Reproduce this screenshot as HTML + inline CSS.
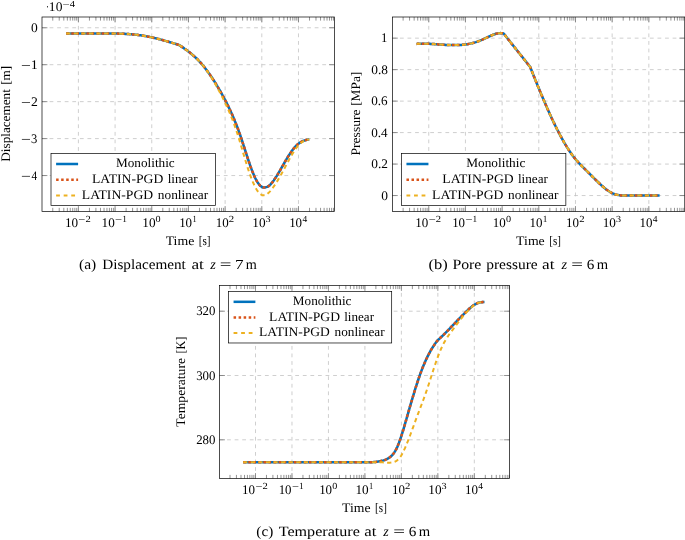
<!DOCTYPE html>
<html><head><meta charset="utf-8"><title>Figure</title>
<style>html,body{margin:0;padding:0;background:#fff}svg{display:block}text{font-family:"Liberation Serif",serif;fill:#000;text-rendering:geometricPrecision}</style>
</head><body>
<svg width="685" height="540" viewBox="0 0 685 540">
<rect width="685" height="540" fill="#fff"/>
<path d="M78.40 211.45 V17.00 M115.08 211.45 V17.00 M151.76 211.45 V17.00 M188.44 211.45 V17.00 M225.12 211.45 V17.00 M261.80 211.45 V17.00 M298.48 211.45 V17.00 M42.00 27.75 H334.40 M42.00 64.70 H334.40 M42.00 101.65 H334.40 M42.00 138.60 H334.40 M42.00 175.55 H334.40" fill="none" stroke="#bfbfbf" stroke-width="0.75" stroke-dasharray="3.79 3.785"/>
<path d="M52.76 17.00 v3.60 M52.76 211.45 v-3.60 M59.22 17.00 v3.60 M59.22 211.45 v-3.60 M63.80 17.00 v3.60 M63.80 211.45 v-3.60 M67.36 17.00 v3.60 M67.36 211.45 v-3.60 M70.26 17.00 v3.60 M70.26 211.45 v-3.60 M72.72 17.00 v3.60 M72.72 211.45 v-3.60 M74.85 17.00 v3.60 M74.85 211.45 v-3.60 M76.72 17.00 v3.60 M76.72 211.45 v-3.60 M78.40 17.00 v5.40 M78.40 211.45 v-5.40 M89.44 17.00 v3.60 M89.44 211.45 v-3.60 M95.90 17.00 v3.60 M95.90 211.45 v-3.60 M100.48 17.00 v3.60 M100.48 211.45 v-3.60 M104.04 17.00 v3.60 M104.04 211.45 v-3.60 M106.94 17.00 v3.60 M106.94 211.45 v-3.60 M109.40 17.00 v3.60 M109.40 211.45 v-3.60 M111.53 17.00 v3.60 M111.53 211.45 v-3.60 M113.40 17.00 v3.60 M113.40 211.45 v-3.60 M115.08 17.00 v5.40 M115.08 211.45 v-5.40 M126.12 17.00 v3.60 M126.12 211.45 v-3.60 M132.58 17.00 v3.60 M132.58 211.45 v-3.60 M137.16 17.00 v3.60 M137.16 211.45 v-3.60 M140.72 17.00 v3.60 M140.72 211.45 v-3.60 M143.62 17.00 v3.60 M143.62 211.45 v-3.60 M146.08 17.00 v3.60 M146.08 211.45 v-3.60 M148.21 17.00 v3.60 M148.21 211.45 v-3.60 M150.08 17.00 v3.60 M150.08 211.45 v-3.60 M151.76 17.00 v5.40 M151.76 211.45 v-5.40 M162.80 17.00 v3.60 M162.80 211.45 v-3.60 M169.26 17.00 v3.60 M169.26 211.45 v-3.60 M173.84 17.00 v3.60 M173.84 211.45 v-3.60 M177.40 17.00 v3.60 M177.40 211.45 v-3.60 M180.30 17.00 v3.60 M180.30 211.45 v-3.60 M182.76 17.00 v3.60 M182.76 211.45 v-3.60 M184.89 17.00 v3.60 M184.89 211.45 v-3.60 M186.76 17.00 v3.60 M186.76 211.45 v-3.60 M188.44 17.00 v5.40 M188.44 211.45 v-5.40 M199.48 17.00 v3.60 M199.48 211.45 v-3.60 M205.94 17.00 v3.60 M205.94 211.45 v-3.60 M210.52 17.00 v3.60 M210.52 211.45 v-3.60 M214.08 17.00 v3.60 M214.08 211.45 v-3.60 M216.98 17.00 v3.60 M216.98 211.45 v-3.60 M219.44 17.00 v3.60 M219.44 211.45 v-3.60 M221.57 17.00 v3.60 M221.57 211.45 v-3.60 M223.44 17.00 v3.60 M223.44 211.45 v-3.60 M225.12 17.00 v5.40 M225.12 211.45 v-5.40 M236.16 17.00 v3.60 M236.16 211.45 v-3.60 M242.62 17.00 v3.60 M242.62 211.45 v-3.60 M247.20 17.00 v3.60 M247.20 211.45 v-3.60 M250.76 17.00 v3.60 M250.76 211.45 v-3.60 M253.66 17.00 v3.60 M253.66 211.45 v-3.60 M256.12 17.00 v3.60 M256.12 211.45 v-3.60 M258.25 17.00 v3.60 M258.25 211.45 v-3.60 M260.12 17.00 v3.60 M260.12 211.45 v-3.60 M261.80 17.00 v5.40 M261.80 211.45 v-5.40 M272.84 17.00 v3.60 M272.84 211.45 v-3.60 M279.30 17.00 v3.60 M279.30 211.45 v-3.60 M283.88 17.00 v3.60 M283.88 211.45 v-3.60 M287.44 17.00 v3.60 M287.44 211.45 v-3.60 M290.34 17.00 v3.60 M290.34 211.45 v-3.60 M292.80 17.00 v3.60 M292.80 211.45 v-3.60 M294.93 17.00 v3.60 M294.93 211.45 v-3.60 M296.80 17.00 v3.60 M296.80 211.45 v-3.60 M298.48 17.00 v5.40 M298.48 211.45 v-5.40 M309.52 17.00 v3.60 M309.52 211.45 v-3.60 M315.98 17.00 v3.60 M315.98 211.45 v-3.60 M320.56 17.00 v3.60 M320.56 211.45 v-3.60 M324.12 17.00 v3.60 M324.12 211.45 v-3.60 M327.02 17.00 v3.60 M327.02 211.45 v-3.60 M329.48 17.00 v3.60 M329.48 211.45 v-3.60 M331.61 17.00 v3.60 M331.61 211.45 v-3.60 M333.48 17.00 v3.60 M333.48 211.45 v-3.60 M42.00 27.75 h5.4 M334.40 27.75 h-5.4 M42.00 64.70 h5.4 M334.40 64.70 h-5.4 M42.00 101.65 h5.4 M334.40 101.65 h-5.4 M42.00 138.60 h5.4 M334.40 138.60 h-5.4 M42.00 175.55 h5.4 M334.40 175.55 h-5.4" fill="none" stroke="#707070" stroke-width="0.75"/>
<path d="M66.20 33.40 L66.95 33.40 L67.70 33.40 L68.45 33.40 L69.20 33.40 L69.95 33.40 L70.70 33.40 L71.45 33.40 L72.20 33.40 L72.95 33.40 L73.70 33.40 L74.45 33.40 L75.20 33.40 L75.95 33.40 L76.70 33.40 L77.45 33.40 L78.20 33.40 L78.95 33.40 L79.70 33.40 L80.45 33.40 L81.20 33.40 L81.95 33.40 L82.70 33.40 L83.45 33.40 L84.20 33.40 L84.95 33.40 L85.70 33.40 L86.45 33.40 L87.20 33.40 L87.95 33.40 L88.70 33.40 L89.45 33.40 L90.20 33.40 L90.95 33.40 L91.70 33.40 L92.45 33.40 L93.20 33.40 L93.95 33.40 L94.70 33.40 L95.45 33.40 L96.20 33.40 L96.95 33.40 L97.70 33.40 L98.45 33.40 L99.20 33.40 L99.95 33.40 L100.70 33.40 L101.45 33.40 L102.20 33.40 L102.95 33.40 L103.70 33.40 L104.00 33.40 L104.75 33.41 L105.50 33.42 L106.25 33.43 L107.00 33.44 L107.75 33.45 L108.50 33.46 L109.25 33.47 L110.00 33.49 L110.75 33.50 L111.50 33.51 L112.25 33.52 L113.00 33.53 L113.75 33.54 L114.50 33.55 L115.25 33.57 L116.00 33.58 L116.75 33.60 L117.50 33.61 L118.25 33.63 L119.00 33.65 L119.75 33.67 L120.50 33.70 L121.25 33.72 L122.00 33.75 L122.75 33.78 L123.50 33.81 L124.25 33.84 L125.00 33.87 L125.75 33.91 L126.50 33.95 L127.25 33.99 L128.00 34.04 L128.75 34.09 L129.50 34.14 L130.25 34.19 L131.00 34.25 L131.75 34.31 L132.50 34.38 L133.25 34.45 L134.00 34.52 L134.75 34.60 L135.50 34.68 L136.25 34.76 L137.00 34.85 L137.75 34.94 L138.50 35.03 L139.25 35.13 L140.00 35.24 L140.75 35.35 L141.50 35.47 L142.25 35.59 L143.00 35.71 L143.75 35.83 L144.50 35.96 L145.25 36.09 L146.00 36.23 L146.75 36.37 L147.50 36.51 L148.25 36.66 L149.00 36.81 L149.75 36.97 L150.50 37.13 L151.25 37.29 L152.00 37.45 L152.75 37.62 L153.50 37.79 L154.25 37.96 L155.00 38.14 L155.75 38.32 L156.50 38.50 L157.25 38.69 L158.00 38.87 L158.75 39.06 L159.50 39.26 L160.25 39.45 L161.00 39.65 L161.75 39.85 L162.50 40.06 L163.25 40.26 L164.00 40.47 L164.75 40.68 L165.50 40.89 L166.25 41.10 L167.00 41.32 L167.75 41.54 L168.50 41.76 L169.25 41.98 L170.00 42.20 L170.75 42.43 L171.50 42.66 L172.25 42.89 L173.00 43.12 L173.75 43.35 L174.50 43.58 L175.25 43.81 L176.00 44.05 L176.75 44.28 L177.50 44.52 L178.25 44.76 L179.00 45.00 L179.30 45.10 L180.05 45.60 L180.80 46.10 L181.55 46.61 L182.30 47.12 L183.05 47.64 L183.80 48.16 L184.55 48.69 L185.30 49.22 L186.05 49.75 L186.80 50.30 L187.55 50.86 L188.30 51.43 L189.05 52.01 L189.80 52.60 L190.55 53.20 L191.30 53.81 L192.05 54.43 L192.80 55.06 L193.55 55.71 L194.30 56.38 L195.05 57.06 L195.80 57.76 L196.55 58.48 L197.30 59.22 L198.05 59.98 L198.80 60.76 L199.55 61.55 L200.30 62.37 L201.05 63.21 L201.80 64.07 L202.55 64.95 L203.30 65.85 L204.05 66.77 L204.80 67.71 L205.55 68.67 L206.30 69.65 L207.05 70.66 L207.80 71.68 L208.55 72.72 L209.30 73.77 L210.05 74.85 L210.80 75.94 L211.55 77.05 L212.30 78.19 L213.05 79.34 L213.80 80.50 L214.55 81.68 L215.30 82.88 L216.05 84.10 L216.80 85.33 L217.55 86.58 L218.30 87.85 L219.05 89.13 L219.80 90.43 L220.55 91.74 L221.30 93.07 L222.05 94.41 L222.80 95.76 L223.55 97.13 L224.30 98.53 L225.05 99.94 L225.80 101.38 L226.55 102.85 L227.30 104.33 L228.05 105.85 L228.80 107.38 L229.55 108.95 L230.30 110.54 L231.05 112.17 L231.80 113.83 L232.55 115.54 L233.30 117.27 L234.05 119.05 L234.80 120.86 L235.55 122.72 L236.30 124.60 L237.05 126.54 L237.80 128.52 L238.55 130.56 L239.30 132.65 L240.05 134.78 L240.80 136.94 L241.55 139.18 L242.30 141.46 L243.05 143.77 L243.80 146.09 L244.55 148.40 L245.30 150.75 L246.05 153.11 L246.80 155.45 L247.55 157.75 L248.30 159.99 L249.05 162.21 L249.80 164.42 L250.55 166.57 L251.30 168.64 L252.05 170.59 L252.80 172.47 L253.55 174.31 L254.30 176.07 L255.05 177.71 L255.80 179.19 L256.55 180.54 L257.30 181.85 L258.05 183.07 L258.80 184.15 L259.55 185.04 L260.30 185.71 L261.05 186.31 L261.80 186.86 L262.55 187.29 L263.30 187.53 L264.05 187.56 L264.80 187.47 L265.55 187.31 L266.30 187.09 L267.05 186.82 L267.80 186.53 L268.55 186.15 L269.30 185.59 L270.05 184.87 L270.80 184.05 L271.55 183.20 L272.30 182.34 L273.05 181.40 L273.80 180.37 L274.55 179.28 L275.30 178.16 L276.05 177.02 L276.80 175.85 L277.55 174.62 L278.30 173.36 L279.05 172.08 L279.80 170.80 L280.55 169.52 L281.30 168.22 L282.05 166.91 L282.80 165.59 L283.55 164.29 L284.30 163.00 L285.05 161.71 L285.80 160.43 L286.55 159.16 L287.30 157.92 L288.05 156.71 L288.80 155.52 L289.55 154.35 L290.30 153.20 L291.05 152.09 L291.80 151.04 L292.55 150.03 L293.30 149.05 L294.05 148.11 L294.80 147.22 L295.55 146.39 L296.30 145.65 L297.05 144.94 L297.80 144.28 L298.55 143.67 L299.30 143.11 L300.05 142.61 L300.80 142.16 L301.55 141.74 L302.30 141.35 L303.05 141.01 L303.80 140.72 L304.55 140.48 L305.30 140.25 L306.05 140.03 L306.80 139.83 L307.55 139.66 L308.30 139.53 L309.05 139.42 L309.30 139.40" fill="none" stroke="#0072BD" stroke-width="2.52" stroke-linejoin="round"/>
<path d="M66.20 33.40 L66.95 33.40 L67.70 33.40 L68.45 33.40 L69.20 33.40 L69.95 33.40 L70.70 33.40 L71.45 33.40 L72.20 33.40 L72.95 33.40 L73.70 33.40 L74.45 33.40 L75.20 33.40 L75.95 33.40 L76.70 33.40 L77.45 33.40 L78.20 33.40 L78.95 33.40 L79.70 33.40 L80.45 33.40 L81.20 33.40 L81.95 33.40 L82.70 33.40 L83.45 33.40 L84.20 33.40 L84.95 33.40 L85.70 33.40 L86.45 33.40 L87.20 33.40 L87.95 33.40 L88.70 33.40 L89.45 33.40 L90.20 33.40 L90.95 33.40 L91.70 33.40 L92.45 33.40 L93.20 33.40 L93.95 33.40 L94.70 33.40 L95.45 33.40 L96.20 33.40 L96.95 33.40 L97.70 33.40 L98.45 33.40 L99.20 33.40 L99.95 33.40 L100.70 33.40 L101.45 33.40 L102.20 33.40 L102.95 33.40 L103.70 33.40 L104.00 33.40 L104.75 33.41 L105.50 33.42 L106.25 33.43 L107.00 33.44 L107.75 33.45 L108.50 33.46 L109.25 33.47 L110.00 33.49 L110.75 33.50 L111.50 33.51 L112.25 33.52 L113.00 33.53 L113.75 33.54 L114.50 33.55 L115.25 33.57 L116.00 33.58 L116.75 33.60 L117.50 33.61 L118.25 33.63 L119.00 33.65 L119.75 33.67 L120.50 33.70 L121.25 33.72 L122.00 33.75 L122.75 33.78 L123.50 33.81 L124.25 33.84 L125.00 33.87 L125.75 33.91 L126.50 33.95 L127.25 33.99 L128.00 34.04 L128.75 34.09 L129.50 34.14 L130.25 34.19 L131.00 34.25 L131.75 34.31 L132.50 34.38 L133.25 34.45 L134.00 34.52 L134.75 34.60 L135.50 34.68 L136.25 34.76 L137.00 34.85 L137.75 34.94 L138.50 35.03 L139.25 35.13 L140.00 35.24 L140.75 35.35 L141.50 35.47 L142.25 35.59 L143.00 35.71 L143.75 35.83 L144.50 35.96 L145.25 36.09 L146.00 36.23 L146.75 36.37 L147.50 36.51 L148.25 36.66 L149.00 36.81 L149.75 36.97 L150.50 37.13 L151.25 37.29 L152.00 37.45 L152.75 37.62 L153.50 37.79 L154.25 37.96 L155.00 38.14 L155.75 38.32 L156.50 38.50 L157.25 38.69 L158.00 38.87 L158.75 39.06 L159.50 39.26 L160.25 39.45 L161.00 39.65 L161.75 39.85 L162.50 40.06 L163.25 40.26 L164.00 40.47 L164.75 40.68 L165.50 40.89 L166.25 41.10 L167.00 41.32 L167.75 41.54 L168.50 41.76 L169.25 41.98 L170.00 42.20 L170.75 42.43 L171.50 42.66 L172.25 42.89 L173.00 43.12 L173.75 43.35 L174.50 43.58 L175.25 43.81 L176.00 44.05 L176.75 44.28 L177.50 44.52 L178.25 44.76 L179.00 45.00 L179.30 45.10 L180.05 45.60 L180.80 46.10 L181.55 46.61 L182.30 47.12 L183.05 47.64 L183.80 48.16 L184.55 48.69 L185.30 49.22 L186.05 49.75 L186.80 50.30 L187.55 50.86 L188.30 51.43 L189.05 52.01 L189.80 52.60 L190.55 53.20 L191.30 53.81 L192.05 54.43 L192.80 55.06 L193.55 55.71 L194.30 56.38 L195.05 57.06 L195.80 57.76 L196.55 58.48 L197.30 59.22 L198.05 59.98 L198.80 60.76 L199.55 61.55 L200.30 62.37 L201.05 63.21 L201.80 64.07 L202.55 64.95 L203.30 65.85 L204.05 66.77 L204.80 67.71 L205.55 68.67 L206.30 69.65 L207.05 70.66 L207.80 71.68 L208.55 72.72 L209.30 73.77 L210.05 74.85 L210.80 75.94 L211.55 77.05 L212.30 78.19 L213.05 79.34 L213.80 80.50 L214.55 81.68 L215.30 82.88 L216.05 84.10 L216.80 85.33 L217.55 86.58 L218.30 87.85 L219.05 89.13 L219.80 90.43 L220.55 91.74 L221.30 93.07 L222.05 94.41 L222.80 95.76 L223.55 97.13 L224.30 98.53 L225.05 99.94 L225.80 101.38 L226.55 102.85 L227.30 104.33 L228.05 105.85 L228.80 107.38 L229.55 108.95 L230.30 110.54 L231.05 112.17 L231.80 113.83 L232.55 115.54 L233.30 117.27 L234.05 119.05 L234.80 120.86 L235.55 122.72 L236.30 124.60 L237.05 126.54 L237.80 128.52 L238.55 130.56 L239.30 132.65 L240.05 134.78 L240.80 136.94 L241.55 139.18 L242.30 141.46 L243.05 143.77 L243.80 146.09 L244.55 148.40 L245.30 150.75 L246.05 153.11 L246.80 155.45 L247.55 157.75 L248.30 159.99 L249.05 162.21 L249.80 164.42 L250.55 166.57 L251.30 168.64 L252.05 170.59 L252.80 172.47 L253.55 174.31 L254.30 176.07 L255.05 177.71 L255.80 179.19 L256.55 180.54 L257.30 181.85 L258.05 183.07 L258.80 184.15 L259.55 185.04 L260.30 185.71 L261.05 186.31 L261.80 186.86 L262.55 187.29 L263.30 187.53 L264.05 187.56 L264.80 187.47 L265.55 187.31 L266.30 187.09 L267.05 186.82 L267.80 186.53 L268.55 186.15 L269.30 185.59 L270.05 184.87 L270.80 184.05 L271.55 183.20 L272.30 182.34 L273.05 181.40 L273.80 180.37 L274.55 179.28 L275.30 178.16 L276.05 177.02 L276.80 175.85 L277.55 174.62 L278.30 173.36 L279.05 172.08 L279.80 170.80 L280.55 169.52 L281.30 168.22 L282.05 166.91 L282.80 165.59 L283.55 164.29 L284.30 163.00 L285.05 161.71 L285.80 160.43 L286.55 159.16 L287.30 157.92 L288.05 156.71 L288.80 155.52 L289.55 154.35 L290.30 153.20 L291.05 152.09 L291.80 151.04 L292.55 150.03 L293.30 149.05 L294.05 148.11 L294.80 147.22 L295.55 146.39 L296.30 145.65 L297.05 144.94 L297.80 144.28 L298.55 143.67 L299.30 143.11 L300.05 142.61 L300.80 142.16 L301.55 141.74 L302.30 141.35 L303.05 141.01 L303.80 140.72 L304.55 140.48 L305.30 140.25 L306.05 140.03 L306.80 139.83 L307.55 139.66 L308.30 139.53 L309.05 139.42 L309.30 139.40" fill="none" stroke="#D95319" stroke-width="2.52" stroke-linejoin="round" stroke-dasharray="2.7 2.35"/>
<path d="M66.20 33.40 L66.95 33.40 L67.70 33.40 L68.45 33.40 L69.20 33.40 L69.95 33.40 L70.70 33.40 L71.45 33.40 L72.20 33.40 L72.95 33.40 L73.70 33.40 L74.45 33.40 L75.20 33.40 L75.95 33.40 L76.70 33.40 L77.45 33.40 L78.20 33.40 L78.95 33.40 L79.70 33.40 L80.45 33.40 L81.20 33.40 L81.95 33.40 L82.70 33.40 L83.45 33.40 L84.20 33.40 L84.95 33.40 L85.70 33.40 L86.45 33.40 L87.20 33.40 L87.95 33.40 L88.70 33.40 L89.45 33.40 L90.20 33.40 L90.95 33.40 L91.70 33.40 L92.45 33.40 L93.20 33.40 L93.95 33.40 L94.70 33.40 L95.45 33.40 L96.20 33.40 L96.95 33.40 L97.70 33.40 L98.45 33.40 L99.20 33.40 L99.95 33.40 L100.70 33.40 L101.45 33.40 L102.20 33.40 L102.95 33.40 L103.70 33.40 L104.00 33.40 L104.75 33.41 L105.50 33.42 L106.25 33.43 L107.00 33.44 L107.75 33.45 L108.50 33.46 L109.25 33.47 L110.00 33.49 L110.75 33.50 L111.50 33.51 L112.25 33.52 L113.00 33.53 L113.75 33.54 L114.50 33.55 L115.25 33.57 L116.00 33.58 L116.75 33.60 L117.50 33.61 L118.25 33.63 L119.00 33.65 L119.75 33.67 L120.50 33.70 L121.25 33.72 L122.00 33.75 L122.75 33.78 L123.50 33.81 L124.25 33.84 L125.00 33.87 L125.75 33.91 L126.50 33.95 L127.25 33.99 L128.00 34.04 L128.75 34.09 L129.50 34.14 L130.25 34.19 L131.00 34.25 L131.75 34.31 L132.50 34.38 L133.25 34.45 L134.00 34.52 L134.75 34.60 L135.50 34.68 L136.25 34.76 L137.00 34.85 L137.75 34.94 L138.50 35.03 L139.25 35.13 L140.00 35.24 L140.75 35.35 L141.50 35.47 L142.25 35.59 L143.00 35.71 L143.75 35.83 L144.50 35.96 L145.25 36.09 L146.00 36.23 L146.75 36.37 L147.50 36.51 L148.25 36.66 L149.00 36.81 L149.75 36.97 L150.50 37.13 L151.25 37.29 L152.00 37.45 L152.75 37.62 L153.50 37.79 L154.25 37.96 L155.00 38.14 L155.75 38.32 L156.50 38.50 L157.25 38.69 L158.00 38.87 L158.75 39.06 L159.50 39.26 L160.25 39.45 L161.00 39.65 L161.75 39.85 L162.50 40.06 L163.25 40.26 L164.00 40.47 L164.75 40.68 L165.50 40.89 L166.25 41.10 L167.00 41.32 L167.75 41.54 L168.50 41.76 L169.25 41.98 L170.00 42.20 L170.75 42.43 L171.50 42.66 L172.25 42.89 L173.00 43.12 L173.75 43.35 L174.50 43.58 L175.25 43.81 L176.00 44.05 L176.75 44.28 L177.50 44.52 L178.25 44.76 L179.00 45.00 L179.30 45.10 L180.05 45.59 L180.80 46.09 L181.55 46.59 L182.30 47.10 L183.05 47.62 L183.80 48.14 L184.55 48.67 L185.30 49.20 L186.05 49.74 L186.80 50.28 L187.55 50.84 L188.30 51.41 L189.05 52.00 L189.80 52.59 L190.55 53.19 L191.30 53.81 L192.05 54.43 L192.80 55.07 L193.55 55.72 L194.30 56.39 L195.05 57.08 L195.80 57.78 L196.55 58.50 L197.30 59.24 L198.05 60.00 L198.80 60.78 L199.55 61.58 L200.30 62.39 L201.05 63.23 L201.80 64.10 L202.55 64.98 L203.30 65.89 L204.05 66.82 L204.80 67.78 L205.55 68.76 L206.30 69.77 L207.05 70.81 L207.80 71.87 L208.55 72.96 L209.30 74.07 L210.05 75.21 L210.80 76.39 L211.55 77.60 L212.30 78.83 L213.05 80.08 L213.80 81.36 L214.55 82.65 L215.30 83.96 L216.05 85.30 L216.80 86.66 L217.55 88.04 L218.30 89.44 L219.05 90.85 L219.80 92.27 L220.55 93.71 L221.30 95.15 L222.05 96.62 L222.80 98.10 L223.55 99.60 L224.30 101.12 L225.05 102.68 L225.80 104.26 L226.55 105.87 L227.30 107.50 L228.05 109.16 L228.80 110.86 L229.55 112.60 L230.30 114.39 L231.05 116.22 L231.80 118.09 L232.55 120.01 L233.30 121.98 L234.05 123.99 L234.80 126.06 L235.55 128.18 L236.30 130.38 L237.05 132.64 L237.80 134.96 L238.55 137.32 L239.30 139.77 L240.05 142.28 L240.80 144.81 L241.55 147.34 L242.30 149.90 L243.05 152.49 L243.80 155.06 L244.55 157.60 L245.30 160.08 L246.05 162.53 L246.80 164.96 L247.55 167.34 L248.30 169.62 L249.05 171.81 L249.80 173.96 L250.55 176.06 L251.30 178.09 L252.05 180.02 L252.80 181.84 L253.55 183.53 L254.30 185.14 L255.05 186.69 L255.80 188.13 L256.55 189.44 L257.30 190.58 L258.05 191.61 L258.80 192.56 L259.55 193.39 L260.30 194.03 L261.05 194.51 L261.80 194.93 L262.55 195.18 L263.30 195.21 L264.05 195.14 L264.80 195.03 L265.55 194.88 L266.30 194.59 L267.05 194.10 L267.80 193.50 L268.55 192.84 L269.30 192.16 L270.05 191.37 L270.80 190.48 L271.55 189.52 L272.30 188.51 L273.05 187.47 L273.80 186.42 L274.55 185.36 L275.30 184.24 L276.05 183.07 L276.80 181.87 L277.55 180.63 L278.30 179.39 L279.05 178.13 L279.80 176.85 L280.55 175.53 L281.30 174.20 L282.05 172.84 L282.80 171.48 L283.55 170.10 L284.30 168.70 L285.05 167.29 L285.80 165.87 L286.55 164.46 L287.30 163.06 L288.05 161.66 L288.80 160.27 L289.55 158.89 L290.30 157.55 L291.05 156.22 L291.80 154.92 L292.55 153.65 L293.30 152.44 L294.05 151.27 L294.80 150.13 L295.55 149.03 L296.30 147.99 L297.05 147.02 L297.80 146.14 L298.55 145.29 L299.30 144.50 L300.05 143.76 L300.80 143.10 L301.55 142.51 L302.30 141.96 L303.05 141.45 L303.80 141.00 L304.55 140.63 L305.30 140.34 L306.05 140.09 L306.80 139.86 L307.55 139.66 L308.30 139.51 L309.05 139.42 L309.30 139.40" fill="none" stroke="#EDB120" stroke-width="2.00" stroke-linejoin="round" stroke-dasharray="4.25 3.325"/>
<rect x="42.00" y="17.00" width="292.40" height="194.45" fill="none" stroke="#000" stroke-width="0.70"/>
<rect x="51.00" y="153.60" width="164.50" height="51.90" fill="#fff" stroke="#000" stroke-width="0.70"/>
<path d="M56.10 164.00 h22.00" stroke="#0072BD" stroke-width="2.52"/>
<path d="M56.10 179.70 h22.00" stroke="#D95319" stroke-width="2.52" stroke-dasharray="2.52 2.52"/>
<path d="M56.10 195.40 h22.00" stroke="#EDB120" stroke-width="2.00" stroke-dasharray="3.79 3.785"/>
<path d="M428.75 211.45 V17.00 M465.43 211.45 V17.00 M502.11 211.45 V17.00 M538.79 211.45 V17.00 M575.47 211.45 V17.00 M612.15 211.45 V17.00 M648.83 211.45 V17.00 M392.35 38.15 H684.75 M392.35 69.63 H684.75 M392.35 101.11 H684.75 M392.35 132.59 H684.75 M392.35 164.07 H684.75 M392.35 195.55 H684.75" fill="none" stroke="#bfbfbf" stroke-width="0.75" stroke-dasharray="3.79 3.785"/>
<path d="M403.11 17.00 v3.60 M403.11 211.45 v-3.60 M409.57 17.00 v3.60 M409.57 211.45 v-3.60 M414.15 17.00 v3.60 M414.15 211.45 v-3.60 M417.71 17.00 v3.60 M417.71 211.45 v-3.60 M420.61 17.00 v3.60 M420.61 211.45 v-3.60 M423.07 17.00 v3.60 M423.07 211.45 v-3.60 M425.20 17.00 v3.60 M425.20 211.45 v-3.60 M427.07 17.00 v3.60 M427.07 211.45 v-3.60 M428.75 17.00 v5.40 M428.75 211.45 v-5.40 M439.79 17.00 v3.60 M439.79 211.45 v-3.60 M446.25 17.00 v3.60 M446.25 211.45 v-3.60 M450.83 17.00 v3.60 M450.83 211.45 v-3.60 M454.39 17.00 v3.60 M454.39 211.45 v-3.60 M457.29 17.00 v3.60 M457.29 211.45 v-3.60 M459.75 17.00 v3.60 M459.75 211.45 v-3.60 M461.88 17.00 v3.60 M461.88 211.45 v-3.60 M463.75 17.00 v3.60 M463.75 211.45 v-3.60 M465.43 17.00 v5.40 M465.43 211.45 v-5.40 M476.47 17.00 v3.60 M476.47 211.45 v-3.60 M482.93 17.00 v3.60 M482.93 211.45 v-3.60 M487.51 17.00 v3.60 M487.51 211.45 v-3.60 M491.07 17.00 v3.60 M491.07 211.45 v-3.60 M493.97 17.00 v3.60 M493.97 211.45 v-3.60 M496.43 17.00 v3.60 M496.43 211.45 v-3.60 M498.56 17.00 v3.60 M498.56 211.45 v-3.60 M500.43 17.00 v3.60 M500.43 211.45 v-3.60 M502.11 17.00 v5.40 M502.11 211.45 v-5.40 M513.15 17.00 v3.60 M513.15 211.45 v-3.60 M519.61 17.00 v3.60 M519.61 211.45 v-3.60 M524.19 17.00 v3.60 M524.19 211.45 v-3.60 M527.75 17.00 v3.60 M527.75 211.45 v-3.60 M530.65 17.00 v3.60 M530.65 211.45 v-3.60 M533.11 17.00 v3.60 M533.11 211.45 v-3.60 M535.24 17.00 v3.60 M535.24 211.45 v-3.60 M537.11 17.00 v3.60 M537.11 211.45 v-3.60 M538.79 17.00 v5.40 M538.79 211.45 v-5.40 M549.83 17.00 v3.60 M549.83 211.45 v-3.60 M556.29 17.00 v3.60 M556.29 211.45 v-3.60 M560.87 17.00 v3.60 M560.87 211.45 v-3.60 M564.43 17.00 v3.60 M564.43 211.45 v-3.60 M567.33 17.00 v3.60 M567.33 211.45 v-3.60 M569.79 17.00 v3.60 M569.79 211.45 v-3.60 M571.92 17.00 v3.60 M571.92 211.45 v-3.60 M573.79 17.00 v3.60 M573.79 211.45 v-3.60 M575.47 17.00 v5.40 M575.47 211.45 v-5.40 M586.51 17.00 v3.60 M586.51 211.45 v-3.60 M592.97 17.00 v3.60 M592.97 211.45 v-3.60 M597.55 17.00 v3.60 M597.55 211.45 v-3.60 M601.11 17.00 v3.60 M601.11 211.45 v-3.60 M604.01 17.00 v3.60 M604.01 211.45 v-3.60 M606.47 17.00 v3.60 M606.47 211.45 v-3.60 M608.60 17.00 v3.60 M608.60 211.45 v-3.60 M610.47 17.00 v3.60 M610.47 211.45 v-3.60 M612.15 17.00 v5.40 M612.15 211.45 v-5.40 M623.19 17.00 v3.60 M623.19 211.45 v-3.60 M629.65 17.00 v3.60 M629.65 211.45 v-3.60 M634.23 17.00 v3.60 M634.23 211.45 v-3.60 M637.79 17.00 v3.60 M637.79 211.45 v-3.60 M640.69 17.00 v3.60 M640.69 211.45 v-3.60 M643.15 17.00 v3.60 M643.15 211.45 v-3.60 M645.28 17.00 v3.60 M645.28 211.45 v-3.60 M647.15 17.00 v3.60 M647.15 211.45 v-3.60 M648.83 17.00 v5.40 M648.83 211.45 v-5.40 M659.87 17.00 v3.60 M659.87 211.45 v-3.60 M666.33 17.00 v3.60 M666.33 211.45 v-3.60 M670.91 17.00 v3.60 M670.91 211.45 v-3.60 M674.47 17.00 v3.60 M674.47 211.45 v-3.60 M677.37 17.00 v3.60 M677.37 211.45 v-3.60 M679.83 17.00 v3.60 M679.83 211.45 v-3.60 M681.96 17.00 v3.60 M681.96 211.45 v-3.60 M683.83 17.00 v3.60 M683.83 211.45 v-3.60 M392.35 38.15 h5.4 M684.75 38.15 h-5.4 M392.35 69.63 h5.4 M684.75 69.63 h-5.4 M392.35 101.11 h5.4 M684.75 101.11 h-5.4 M392.35 132.59 h5.4 M684.75 132.59 h-5.4 M392.35 164.07 h5.4 M684.75 164.07 h-5.4 M392.35 195.55 h5.4 M684.75 195.55 h-5.4" fill="none" stroke="#707070" stroke-width="0.75"/>
<path d="M416.60 43.90 L417.35 43.86 L418.10 43.82 L418.85 43.79 L419.60 43.77 L420.35 43.75 L421.10 43.73 L421.85 43.72 L422.60 43.71 L423.35 43.70 L424.10 43.70 L424.85 43.70 L425.60 43.70 L426.35 43.71 L427.10 43.73 L427.85 43.76 L428.60 43.79 L429.35 43.83 L430.10 43.87 L430.85 43.91 L431.60 43.95 L432.35 44.00 L433.10 44.04 L433.85 44.08 L434.60 44.13 L435.35 44.18 L436.10 44.23 L436.85 44.28 L437.60 44.34 L438.35 44.40 L439.10 44.45 L439.85 44.50 L440.60 44.55 L441.35 44.60 L442.10 44.65 L442.85 44.70 L443.60 44.76 L444.35 44.81 L445.10 44.87 L445.85 44.92 L446.60 44.96 L447.35 45.00 L448.10 45.04 L448.85 45.06 L449.60 45.08 L450.35 45.08 L451.10 45.08 L451.85 45.09 L452.60 45.09 L453.35 45.09 L454.10 45.09 L454.85 45.09 L455.60 45.09 L456.35 45.10 L457.10 45.10 L457.85 45.10 L458.60 45.09 L459.35 45.06 L460.10 45.02 L460.85 44.96 L461.60 44.90 L462.35 44.82 L463.10 44.75 L463.85 44.67 L464.60 44.59 L465.35 44.50 L466.10 44.39 L466.85 44.27 L467.60 44.14 L468.35 44.01 L469.10 43.87 L469.85 43.72 L470.60 43.56 L471.35 43.39 L472.10 43.21 L472.85 43.01 L473.60 42.81 L474.35 42.59 L475.10 42.37 L475.85 42.14 L476.60 41.89 L477.35 41.64 L478.10 41.37 L478.85 41.09 L479.60 40.79 L480.35 40.50 L481.10 40.19 L481.85 39.88 L482.60 39.55 L483.35 39.21 L484.10 38.86 L484.85 38.50 L485.60 38.14 L486.35 37.78 L487.10 37.43 L487.85 37.10 L488.60 36.75 L489.35 36.40 L490.10 36.06 L490.85 35.72 L491.60 35.40 L492.35 35.09 L493.10 34.80 L493.85 34.54 L494.60 34.27 L495.35 34.02 L496.10 33.80 L496.85 33.61 L497.60 33.48 L498.35 33.36 L499.10 33.26 L499.85 33.18 L500.60 33.13 L501.35 33.14 L502.10 33.18 L502.85 33.27 L503.60 33.40 L504.35 34.37 L505.10 35.33 L505.85 36.30 L506.60 37.26 L507.35 38.22 L508.10 39.17 L508.85 40.13 L509.60 41.08 L510.35 42.03 L511.10 42.97 L511.85 43.92 L512.60 44.87 L513.35 45.81 L514.10 46.75 L514.85 47.69 L515.60 48.63 L516.35 49.57 L517.10 50.51 L517.85 51.45 L518.60 52.39 L519.35 53.33 L520.10 54.26 L520.85 55.20 L521.60 56.14 L522.35 57.08 L523.10 58.02 L523.85 58.97 L524.60 59.91 L525.35 60.85 L526.10 61.80 L526.85 62.75 L527.60 63.70 L528.35 64.65 L529.10 65.60 L529.85 66.55 L530.20 67.00 L530.95 68.89 L531.70 70.78 L532.45 72.67 L533.20 74.54 L533.95 76.41 L534.70 78.28 L535.45 80.14 L536.20 81.99 L536.95 83.84 L537.70 85.68 L538.45 87.51 L539.20 89.33 L539.95 91.15 L540.70 92.96 L541.45 94.75 L542.20 96.54 L542.95 98.31 L543.70 100.08 L544.45 101.83 L545.20 103.58 L545.95 105.31 L546.70 107.02 L547.45 108.72 L548.20 110.41 L548.95 112.09 L549.70 113.76 L550.45 115.41 L551.20 117.04 L551.95 118.66 L552.70 120.26 L553.45 121.84 L554.20 123.41 L554.95 124.96 L555.70 126.50 L556.45 128.02 L557.20 129.52 L557.95 130.99 L558.70 132.45 L559.45 133.89 L560.20 135.31 L560.95 136.71 L561.70 138.09 L562.45 139.45 L563.20 140.79 L563.95 142.09 L564.70 143.37 L565.45 144.64 L566.20 145.88 L566.95 147.11 L567.70 148.31 L568.45 149.48 L569.20 150.63 L569.95 151.74 L570.70 152.83 L571.45 153.90 L572.20 154.95 L572.95 155.96 L573.70 156.95 L574.45 157.90 L575.20 158.82 L575.95 159.71 L576.70 160.58 L577.45 161.42 L578.20 162.25 L578.95 163.07 L579.70 163.87 L580.45 164.66 L581.20 165.44 L581.95 166.22 L582.70 166.97 L583.45 167.72 L584.20 168.44 L584.95 169.17 L585.70 169.88 L586.45 170.60 L587.20 171.32 L587.95 172.04 L588.70 172.78 L589.45 173.53 L590.20 174.28 L590.95 175.03 L591.70 175.79 L592.45 176.55 L593.20 177.30 L593.95 178.05 L594.70 178.80 L595.45 179.54 L596.20 180.28 L596.95 181.01 L597.70 181.76 L598.45 182.49 L599.20 183.23 L599.95 183.95 L600.70 184.66 L601.45 185.35 L602.20 186.02 L602.95 186.68 L603.70 187.32 L604.45 187.95 L605.20 188.57 L605.95 189.17 L606.70 189.74 L607.45 190.28 L608.20 190.79 L608.95 191.28 L609.70 191.76 L610.45 192.22 L611.20 192.63 L611.95 193.00 L612.70 193.32 L613.45 193.63 L614.20 193.92 L614.95 194.20 L615.70 194.44 L616.45 194.65 L617.20 194.81 L617.95 194.94 L618.70 195.07 L619.45 195.18 L620.20 195.29 L620.95 195.38 L621.70 195.46 L622.45 195.51 L623.20 195.54 L623.95 195.55 L624.70 195.55 L625.45 195.55 L626.20 195.54 L626.95 195.54 L627.70 195.54 L628.45 195.54 L629.20 195.54 L629.95 195.54 L630.70 195.54 L631.45 195.54 L632.20 195.54 L632.95 195.54 L633.70 195.54 L634.45 195.54 L635.20 195.54 L635.95 195.55 L636.70 195.55 L637.45 195.55 L638.20 195.55 L638.95 195.55 L639.70 195.56 L640.45 195.56 L641.20 195.56 L641.95 195.56 L642.70 195.56 L643.45 195.56 L644.20 195.57 L644.95 195.57 L645.70 195.57 L646.45 195.57 L647.20 195.57 L647.95 195.57 L648.70 195.58 L649.45 195.58 L650.20 195.58 L650.95 195.58 L651.70 195.58 L652.45 195.58 L653.20 195.59 L653.95 195.59 L654.70 195.59 L655.45 195.59 L656.20 195.59 L656.95 195.59 L657.70 195.60 L658.45 195.60 L659.20 195.60 L659.60 195.60" fill="none" stroke="#0072BD" stroke-width="2.52" stroke-linejoin="round"/>
<path d="M416.60 43.90 L417.35 43.86 L418.10 43.82 L418.85 43.79 L419.60 43.77 L420.35 43.75 L421.10 43.73 L421.85 43.72 L422.60 43.71 L423.35 43.70 L424.10 43.70 L424.85 43.70 L425.60 43.70 L426.35 43.71 L427.10 43.73 L427.85 43.76 L428.60 43.79 L429.35 43.83 L430.10 43.87 L430.85 43.91 L431.60 43.95 L432.35 44.00 L433.10 44.04 L433.85 44.08 L434.60 44.13 L435.35 44.18 L436.10 44.23 L436.85 44.28 L437.60 44.34 L438.35 44.40 L439.10 44.45 L439.85 44.50 L440.60 44.55 L441.35 44.60 L442.10 44.65 L442.85 44.70 L443.60 44.76 L444.35 44.81 L445.10 44.87 L445.85 44.92 L446.60 44.96 L447.35 45.00 L448.10 45.04 L448.85 45.06 L449.60 45.08 L450.35 45.08 L451.10 45.08 L451.85 45.09 L452.60 45.09 L453.35 45.09 L454.10 45.09 L454.85 45.09 L455.60 45.09 L456.35 45.10 L457.10 45.10 L457.85 45.10 L458.60 45.09 L459.35 45.06 L460.10 45.02 L460.85 44.96 L461.60 44.90 L462.35 44.82 L463.10 44.75 L463.85 44.67 L464.60 44.59 L465.35 44.50 L466.10 44.39 L466.85 44.27 L467.60 44.14 L468.35 44.01 L469.10 43.87 L469.85 43.72 L470.60 43.56 L471.35 43.39 L472.10 43.21 L472.85 43.01 L473.60 42.81 L474.35 42.59 L475.10 42.37 L475.85 42.14 L476.60 41.89 L477.35 41.64 L478.10 41.37 L478.85 41.09 L479.60 40.79 L480.35 40.50 L481.10 40.19 L481.85 39.88 L482.60 39.55 L483.35 39.21 L484.10 38.86 L484.85 38.50 L485.60 38.14 L486.35 37.78 L487.10 37.43 L487.85 37.10 L488.60 36.75 L489.35 36.40 L490.10 36.06 L490.85 35.72 L491.60 35.40 L492.35 35.09 L493.10 34.80 L493.85 34.54 L494.60 34.27 L495.35 34.02 L496.10 33.80 L496.85 33.61 L497.60 33.48 L498.35 33.36 L499.10 33.26 L499.85 33.18 L500.60 33.13 L501.35 33.14 L502.10 33.18 L502.85 33.27 L503.60 33.40 L504.35 34.37 L505.10 35.33 L505.85 36.30 L506.60 37.26 L507.35 38.22 L508.10 39.17 L508.85 40.13 L509.60 41.08 L510.35 42.03 L511.10 42.97 L511.85 43.92 L512.60 44.87 L513.35 45.81 L514.10 46.75 L514.85 47.69 L515.60 48.63 L516.35 49.57 L517.10 50.51 L517.85 51.45 L518.60 52.39 L519.35 53.33 L520.10 54.26 L520.85 55.20 L521.60 56.14 L522.35 57.08 L523.10 58.02 L523.85 58.97 L524.60 59.91 L525.35 60.85 L526.10 61.80 L526.85 62.75 L527.60 63.70 L528.35 64.65 L529.10 65.60 L529.85 66.55 L530.20 67.00 L530.95 68.89 L531.70 70.78 L532.45 72.67 L533.20 74.54 L533.95 76.41 L534.70 78.28 L535.45 80.14 L536.20 81.99 L536.95 83.84 L537.70 85.68 L538.45 87.51 L539.20 89.33 L539.95 91.15 L540.70 92.96 L541.45 94.75 L542.20 96.54 L542.95 98.31 L543.70 100.08 L544.45 101.83 L545.20 103.58 L545.95 105.31 L546.70 107.02 L547.45 108.72 L548.20 110.41 L548.95 112.09 L549.70 113.76 L550.45 115.41 L551.20 117.04 L551.95 118.66 L552.70 120.26 L553.45 121.84 L554.20 123.41 L554.95 124.96 L555.70 126.50 L556.45 128.02 L557.20 129.52 L557.95 130.99 L558.70 132.45 L559.45 133.89 L560.20 135.31 L560.95 136.71 L561.70 138.09 L562.45 139.45 L563.20 140.79 L563.95 142.09 L564.70 143.37 L565.45 144.64 L566.20 145.88 L566.95 147.11 L567.70 148.31 L568.45 149.48 L569.20 150.63 L569.95 151.74 L570.70 152.83 L571.45 153.90 L572.20 154.95 L572.95 155.96 L573.70 156.95 L574.45 157.90 L575.20 158.82 L575.95 159.71 L576.70 160.58 L577.45 161.42 L578.20 162.25 L578.95 163.07 L579.70 163.87 L580.45 164.66 L581.20 165.44 L581.95 166.22 L582.70 166.97 L583.45 167.72 L584.20 168.44 L584.95 169.17 L585.70 169.88 L586.45 170.60 L587.20 171.32 L587.95 172.04 L588.70 172.78 L589.45 173.53 L590.20 174.28 L590.95 175.03 L591.70 175.79 L592.45 176.55 L593.20 177.30 L593.95 178.05 L594.70 178.80 L595.45 179.54 L596.20 180.28 L596.95 181.01 L597.70 181.76 L598.45 182.49 L599.20 183.23 L599.95 183.95 L600.70 184.66 L601.45 185.35 L602.20 186.02 L602.95 186.68 L603.70 187.32 L604.45 187.95 L605.20 188.57 L605.95 189.17 L606.70 189.74 L607.45 190.28 L608.20 190.79 L608.95 191.28 L609.70 191.76 L610.45 192.22 L611.20 192.63 L611.95 193.00 L612.70 193.32 L613.45 193.63 L614.20 193.92 L614.95 194.20 L615.70 194.44 L616.45 194.65 L617.20 194.81 L617.95 194.94 L618.70 195.07 L619.45 195.18 L620.20 195.29 L620.95 195.38 L621.70 195.46 L622.45 195.51 L623.20 195.54 L623.95 195.55 L624.70 195.55 L625.45 195.55 L626.20 195.54 L626.95 195.54 L627.70 195.54 L628.45 195.54 L629.20 195.54 L629.95 195.54 L630.70 195.54 L631.45 195.54 L632.20 195.54 L632.95 195.54 L633.70 195.54 L634.45 195.54 L635.20 195.54 L635.95 195.55 L636.70 195.55 L637.45 195.55 L638.20 195.55 L638.95 195.55 L639.70 195.56 L640.45 195.56 L641.20 195.56 L641.95 195.56 L642.70 195.56 L643.45 195.56 L644.20 195.57 L644.95 195.57 L645.70 195.57 L646.45 195.57 L647.20 195.57 L647.95 195.57 L648.70 195.58 L649.45 195.58 L650.20 195.58 L650.95 195.58 L651.70 195.58 L652.45 195.58 L653.20 195.59 L653.95 195.59 L654.70 195.59 L655.45 195.59 L656.20 195.59 L656.95 195.59 L657.70 195.60 L658.45 195.60 L659.20 195.60 L659.60 195.60" fill="none" stroke="#D95319" stroke-width="2.52" stroke-linejoin="round" stroke-dasharray="2.7 2.35"/>
<path d="M416.60 43.90 L417.35 43.86 L418.10 43.82 L418.85 43.79 L419.60 43.77 L420.35 43.75 L421.10 43.73 L421.85 43.72 L422.60 43.71 L423.35 43.70 L424.10 43.70 L424.85 43.70 L425.60 43.70 L426.35 43.71 L427.10 43.73 L427.85 43.76 L428.60 43.79 L429.35 43.83 L430.10 43.87 L430.85 43.91 L431.60 43.95 L432.35 44.00 L433.10 44.04 L433.85 44.08 L434.60 44.13 L435.35 44.18 L436.10 44.23 L436.85 44.28 L437.60 44.34 L438.35 44.40 L439.10 44.45 L439.85 44.50 L440.60 44.55 L441.35 44.60 L442.10 44.65 L442.85 44.70 L443.60 44.76 L444.35 44.81 L445.10 44.87 L445.85 44.92 L446.60 44.96 L447.35 45.00 L448.10 45.04 L448.85 45.06 L449.60 45.08 L450.35 45.08 L451.10 45.08 L451.85 45.09 L452.60 45.09 L453.35 45.09 L454.10 45.09 L454.85 45.09 L455.60 45.09 L456.35 45.10 L457.10 45.10 L457.85 45.10 L458.60 45.09 L459.35 45.06 L460.10 45.02 L460.85 44.96 L461.60 44.90 L462.35 44.82 L463.10 44.75 L463.85 44.67 L464.60 44.59 L465.35 44.50 L466.10 44.39 L466.85 44.27 L467.60 44.14 L468.35 44.01 L469.10 43.87 L469.85 43.72 L470.60 43.56 L471.35 43.39 L472.10 43.21 L472.85 43.01 L473.60 42.81 L474.35 42.59 L475.10 42.37 L475.85 42.14 L476.60 41.89 L477.35 41.64 L478.10 41.37 L478.85 41.09 L479.60 40.79 L480.35 40.50 L481.10 40.19 L481.85 39.88 L482.60 39.55 L483.35 39.21 L484.10 38.86 L484.85 38.50 L485.60 38.14 L486.35 37.78 L487.10 37.43 L487.85 37.10 L488.60 36.75 L489.35 36.40 L490.10 36.06 L490.85 35.72 L491.60 35.40 L492.35 35.09 L493.10 34.80 L493.85 34.54 L494.60 34.27 L495.35 34.02 L496.10 33.80 L496.85 33.61 L497.60 33.48 L498.35 33.36 L499.10 33.26 L499.85 33.18 L500.60 33.13 L501.35 33.14 L502.10 33.18 L502.85 33.27 L503.60 33.40 L504.35 34.37 L505.10 35.33 L505.85 36.30 L506.60 37.26 L507.35 38.22 L508.10 39.17 L508.85 40.13 L509.60 41.08 L510.35 42.03 L511.10 42.97 L511.85 43.92 L512.60 44.87 L513.35 45.81 L514.10 46.75 L514.85 47.69 L515.60 48.63 L516.35 49.57 L517.10 50.51 L517.85 51.45 L518.60 52.39 L519.35 53.33 L520.10 54.26 L520.85 55.20 L521.60 56.14 L522.35 57.08 L523.10 58.02 L523.85 58.97 L524.60 59.91 L525.35 60.85 L526.10 61.80 L526.85 62.75 L527.60 63.70 L528.35 64.65 L529.10 65.60 L529.85 66.55 L530.20 67.00 L530.95 68.89 L531.70 70.78 L532.45 72.67 L533.20 74.54 L533.95 76.41 L534.70 78.28 L535.45 80.14 L536.20 81.99 L536.95 83.84 L537.70 85.68 L538.45 87.51 L539.20 89.33 L539.95 91.15 L540.70 92.96 L541.45 94.75 L542.20 96.54 L542.95 98.31 L543.70 100.08 L544.45 101.83 L545.20 103.58 L545.95 105.31 L546.70 107.02 L547.45 108.72 L548.20 110.41 L548.95 112.09 L549.70 113.76 L550.45 115.41 L551.20 117.04 L551.95 118.66 L552.70 120.26 L553.45 121.84 L554.20 123.41 L554.95 124.96 L555.70 126.50 L556.45 128.02 L557.20 129.52 L557.95 130.99 L558.70 132.45 L559.45 133.89 L560.20 135.31 L560.95 136.71 L561.70 138.09 L562.45 139.45 L563.20 140.79 L563.95 142.09 L564.70 143.37 L565.45 144.64 L566.20 145.88 L566.95 147.11 L567.70 148.31 L568.45 149.48 L569.20 150.63 L569.95 151.74 L570.70 152.83 L571.45 153.90 L572.20 154.95 L572.95 155.96 L573.70 156.95 L574.45 157.90 L575.20 158.82 L575.95 159.71 L576.70 160.58 L577.45 161.42 L578.20 162.25 L578.95 163.07 L579.70 163.87 L580.45 164.66 L581.20 165.44 L581.95 166.22 L582.70 166.97 L583.45 167.72 L584.20 168.44 L584.95 169.17 L585.70 169.88 L586.45 170.60 L587.20 171.32 L587.95 172.04 L588.70 172.78 L589.45 173.53 L590.20 174.28 L590.95 175.03 L591.70 175.79 L592.45 176.55 L593.20 177.30 L593.95 178.05 L594.70 178.80 L595.45 179.54 L596.20 180.28 L596.95 181.01 L597.70 181.76 L598.45 182.49 L599.20 183.23 L599.95 183.95 L600.70 184.66 L601.45 185.35 L602.20 186.02 L602.95 186.68 L603.70 187.32 L604.45 187.95 L605.20 188.57 L605.95 189.17 L606.70 189.74 L607.45 190.28 L608.20 190.79 L608.95 191.28 L609.70 191.76 L610.45 192.22 L611.20 192.63 L611.95 193.00 L612.70 193.32 L613.45 193.63 L614.20 193.92 L614.95 194.20 L615.70 194.44 L616.45 194.65 L617.20 194.81 L617.95 194.94 L618.70 195.07 L619.45 195.18 L620.20 195.29 L620.95 195.38 L621.70 195.46 L622.45 195.51 L623.20 195.54 L623.95 195.55 L624.70 195.55 L625.45 195.55 L626.20 195.54 L626.95 195.54 L627.70 195.54 L628.45 195.54 L629.20 195.54 L629.95 195.54 L630.70 195.54 L631.45 195.54 L632.20 195.54 L632.95 195.54 L633.70 195.54 L634.45 195.54 L635.20 195.54 L635.95 195.55 L636.70 195.55 L637.45 195.55 L638.20 195.55 L638.95 195.55 L639.70 195.56 L640.45 195.56 L641.20 195.56 L641.95 195.56 L642.70 195.56 L643.45 195.56 L644.20 195.57 L644.95 195.57 L645.70 195.57 L646.45 195.57 L647.20 195.57 L647.95 195.57 L648.70 195.58 L649.45 195.58 L650.20 195.58 L650.95 195.58 L651.70 195.58 L652.45 195.58 L653.20 195.59 L653.95 195.59 L654.70 195.59 L655.45 195.59 L656.20 195.59 L656.95 195.59 L657.70 195.60 L658.45 195.60 L659.20 195.60 L659.60 195.60" fill="none" stroke="#EDB120" stroke-width="2.00" stroke-linejoin="round" stroke-dasharray="4.25 3.325"/>
<rect x="392.35" y="17.00" width="292.40" height="194.45" fill="none" stroke="#000" stroke-width="0.70"/>
<rect x="401.35" y="153.60" width="164.50" height="51.90" fill="#fff" stroke="#000" stroke-width="0.70"/>
<path d="M406.45 164.00 h22.00" stroke="#0072BD" stroke-width="2.52"/>
<path d="M406.45 179.70 h22.00" stroke="#D95319" stroke-width="2.52" stroke-dasharray="2.52 2.52"/>
<path d="M406.45 195.40 h22.00" stroke="#EDB120" stroke-width="2.00" stroke-dasharray="3.79 3.785"/>
<path d="M255.50 478.50 V285.50 M291.97 478.50 V285.50 M328.44 478.50 V285.50 M364.91 478.50 V285.50 M401.38 478.50 V285.50 M437.85 478.50 V285.50 M474.32 478.50 V285.50 M219.50 311.20 H509.50 M219.50 375.50 H509.50 M219.50 439.80 H509.50" fill="none" stroke="#bfbfbf" stroke-width="0.75" stroke-dasharray="3.79 3.785"/>
<path d="M230.01 285.50 v3.60 M230.01 478.50 v-3.60 M236.43 285.50 v3.60 M236.43 478.50 v-3.60 M240.99 285.50 v3.60 M240.99 478.50 v-3.60 M244.52 285.50 v3.60 M244.52 478.50 v-3.60 M247.41 285.50 v3.60 M247.41 478.50 v-3.60 M249.85 285.50 v3.60 M249.85 478.50 v-3.60 M251.97 285.50 v3.60 M251.97 478.50 v-3.60 M253.83 285.50 v3.60 M253.83 478.50 v-3.60 M255.50 285.50 v5.40 M255.50 478.50 v-5.40 M266.48 285.50 v3.60 M266.48 478.50 v-3.60 M272.90 285.50 v3.60 M272.90 478.50 v-3.60 M277.46 285.50 v3.60 M277.46 478.50 v-3.60 M280.99 285.50 v3.60 M280.99 478.50 v-3.60 M283.88 285.50 v3.60 M283.88 478.50 v-3.60 M286.32 285.50 v3.60 M286.32 478.50 v-3.60 M288.44 285.50 v3.60 M288.44 478.50 v-3.60 M290.30 285.50 v3.60 M290.30 478.50 v-3.60 M291.97 285.50 v5.40 M291.97 478.50 v-5.40 M302.95 285.50 v3.60 M302.95 478.50 v-3.60 M309.37 285.50 v3.60 M309.37 478.50 v-3.60 M313.93 285.50 v3.60 M313.93 478.50 v-3.60 M317.46 285.50 v3.60 M317.46 478.50 v-3.60 M320.35 285.50 v3.60 M320.35 478.50 v-3.60 M322.79 285.50 v3.60 M322.79 478.50 v-3.60 M324.91 285.50 v3.60 M324.91 478.50 v-3.60 M326.77 285.50 v3.60 M326.77 478.50 v-3.60 M328.44 285.50 v5.40 M328.44 478.50 v-5.40 M339.42 285.50 v3.60 M339.42 478.50 v-3.60 M345.84 285.50 v3.60 M345.84 478.50 v-3.60 M350.40 285.50 v3.60 M350.40 478.50 v-3.60 M353.93 285.50 v3.60 M353.93 478.50 v-3.60 M356.82 285.50 v3.60 M356.82 478.50 v-3.60 M359.26 285.50 v3.60 M359.26 478.50 v-3.60 M361.38 285.50 v3.60 M361.38 478.50 v-3.60 M363.24 285.50 v3.60 M363.24 478.50 v-3.60 M364.91 285.50 v5.40 M364.91 478.50 v-5.40 M375.89 285.50 v3.60 M375.89 478.50 v-3.60 M382.31 285.50 v3.60 M382.31 478.50 v-3.60 M386.87 285.50 v3.60 M386.87 478.50 v-3.60 M390.40 285.50 v3.60 M390.40 478.50 v-3.60 M393.29 285.50 v3.60 M393.29 478.50 v-3.60 M395.73 285.50 v3.60 M395.73 478.50 v-3.60 M397.85 285.50 v3.60 M397.85 478.50 v-3.60 M399.71 285.50 v3.60 M399.71 478.50 v-3.60 M401.38 285.50 v5.40 M401.38 478.50 v-5.40 M412.36 285.50 v3.60 M412.36 478.50 v-3.60 M418.78 285.50 v3.60 M418.78 478.50 v-3.60 M423.34 285.50 v3.60 M423.34 478.50 v-3.60 M426.87 285.50 v3.60 M426.87 478.50 v-3.60 M429.76 285.50 v3.60 M429.76 478.50 v-3.60 M432.20 285.50 v3.60 M432.20 478.50 v-3.60 M434.32 285.50 v3.60 M434.32 478.50 v-3.60 M436.18 285.50 v3.60 M436.18 478.50 v-3.60 M437.85 285.50 v5.40 M437.85 478.50 v-5.40 M448.83 285.50 v3.60 M448.83 478.50 v-3.60 M455.25 285.50 v3.60 M455.25 478.50 v-3.60 M459.81 285.50 v3.60 M459.81 478.50 v-3.60 M463.34 285.50 v3.60 M463.34 478.50 v-3.60 M466.23 285.50 v3.60 M466.23 478.50 v-3.60 M468.67 285.50 v3.60 M468.67 478.50 v-3.60 M470.79 285.50 v3.60 M470.79 478.50 v-3.60 M472.65 285.50 v3.60 M472.65 478.50 v-3.60 M474.32 285.50 v5.40 M474.32 478.50 v-5.40 M485.30 285.50 v3.60 M485.30 478.50 v-3.60 M491.72 285.50 v3.60 M491.72 478.50 v-3.60 M496.28 285.50 v3.60 M496.28 478.50 v-3.60 M499.81 285.50 v3.60 M499.81 478.50 v-3.60 M502.70 285.50 v3.60 M502.70 478.50 v-3.60 M505.14 285.50 v3.60 M505.14 478.50 v-3.60 M507.26 285.50 v3.60 M507.26 478.50 v-3.60 M509.12 285.50 v3.60 M509.12 478.50 v-3.60 M219.50 311.20 h5.4 M509.50 311.20 h-5.4 M219.50 375.50 h5.4 M509.50 375.50 h-5.4 M219.50 439.80 h5.4 M509.50 439.80 h-5.4" fill="none" stroke="#707070" stroke-width="0.75"/>
<path d="M243.20 462.30 L243.95 462.30 L244.70 462.30 L245.45 462.30 L246.20 462.30 L246.95 462.30 L247.70 462.30 L248.45 462.30 L249.20 462.30 L249.95 462.30 L250.70 462.30 L251.45 462.30 L252.20 462.30 L252.95 462.30 L253.70 462.30 L254.45 462.30 L255.20 462.30 L255.95 462.30 L256.70 462.30 L257.45 462.30 L258.20 462.30 L258.95 462.30 L259.70 462.30 L260.45 462.30 L261.20 462.30 L261.95 462.30 L262.70 462.30 L263.45 462.30 L264.20 462.30 L264.95 462.30 L265.70 462.30 L266.45 462.30 L267.20 462.30 L267.95 462.30 L268.70 462.30 L269.45 462.30 L270.20 462.30 L270.95 462.30 L271.70 462.30 L272.45 462.30 L273.20 462.30 L273.95 462.30 L274.70 462.30 L275.45 462.30 L276.20 462.30 L276.95 462.30 L277.70 462.30 L278.45 462.30 L279.20 462.30 L279.95 462.30 L280.70 462.30 L281.45 462.30 L282.20 462.30 L282.95 462.30 L283.70 462.30 L284.45 462.30 L285.20 462.30 L285.95 462.30 L286.70 462.30 L287.45 462.30 L288.20 462.30 L288.95 462.30 L289.70 462.30 L290.45 462.30 L291.20 462.30 L291.95 462.30 L292.70 462.30 L293.45 462.30 L294.20 462.30 L294.95 462.30 L295.70 462.30 L296.45 462.30 L297.20 462.30 L297.95 462.30 L298.70 462.30 L299.45 462.30 L300.20 462.30 L300.95 462.30 L301.70 462.30 L302.45 462.30 L303.20 462.30 L303.95 462.30 L304.70 462.30 L305.45 462.30 L306.20 462.30 L306.95 462.30 L307.70 462.30 L308.45 462.30 L309.20 462.30 L309.95 462.30 L310.70 462.30 L311.45 462.30 L312.20 462.30 L312.95 462.30 L313.70 462.30 L314.45 462.30 L315.20 462.30 L315.95 462.30 L316.70 462.30 L317.45 462.30 L318.20 462.30 L318.95 462.30 L319.70 462.30 L320.45 462.30 L321.20 462.30 L321.95 462.30 L322.70 462.30 L323.45 462.30 L324.20 462.30 L324.95 462.30 L325.70 462.30 L326.45 462.30 L327.20 462.30 L327.95 462.30 L328.70 462.30 L329.45 462.30 L330.20 462.30 L330.95 462.30 L331.70 462.30 L332.45 462.30 L333.20 462.30 L333.95 462.30 L334.70 462.30 L335.45 462.30 L336.20 462.30 L336.95 462.30 L337.70 462.30 L338.45 462.30 L339.20 462.30 L339.95 462.30 L340.70 462.30 L341.45 462.30 L342.20 462.30 L342.95 462.30 L343.70 462.30 L344.45 462.30 L345.20 462.30 L345.95 462.30 L346.70 462.30 L347.45 462.30 L348.20 462.30 L348.95 462.30 L349.70 462.30 L350.45 462.30 L351.20 462.30 L351.95 462.30 L352.70 462.30 L353.45 462.30 L354.20 462.30 L354.95 462.30 L355.70 462.30 L356.45 462.30 L357.20 462.30 L357.95 462.30 L358.70 462.30 L359.45 462.30 L360.20 462.30 L360.95 462.30 L361.70 462.30 L362.45 462.30 L363.20 462.30 L363.95 462.30 L364.70 462.30 L365.45 462.30 L366.00 462.30 L366.75 462.30 L367.50 462.30 L368.25 462.30 L369.00 462.30 L369.75 462.29 L370.50 462.29 L371.25 462.26 L372.00 462.22 L372.75 462.17 L373.50 462.11 L374.25 462.05 L375.00 461.99 L375.75 461.91 L376.50 461.82 L377.25 461.71 L378.00 461.59 L378.75 461.46 L379.50 461.32 L380.25 461.17 L381.00 461.00 L381.75 460.83 L382.50 460.65 L383.25 460.45 L384.00 460.21 L384.75 459.95 L385.50 459.66 L386.25 459.35 L387.00 459.00 L387.75 458.62 L388.50 458.18 L389.25 457.67 L390.00 457.10 L390.75 456.47 L391.50 455.79 L392.25 455.05 L393.00 454.19 L393.75 453.22 L394.50 452.14 L395.25 450.96 L396.00 449.66 L396.75 448.14 L397.50 446.44 L398.25 444.63 L399.00 442.74 L399.75 440.68 L400.50 438.51 L401.25 436.28 L402.00 433.94 L402.75 431.53 L403.50 429.07 L404.25 426.54 L405.00 423.97 L405.75 421.39 L406.50 418.77 L407.25 416.15 L408.00 413.53 L408.75 410.91 L409.50 408.30 L410.25 405.71 L411.00 403.13 L411.75 400.57 L412.50 398.04 L413.25 395.53 L414.00 393.05 L414.75 390.60 L415.50 388.18 L416.25 385.81 L417.00 383.50 L417.75 381.23 L418.50 378.99 L419.25 376.80 L420.00 374.67 L420.75 372.62 L421.50 370.62 L422.25 368.67 L423.00 366.78 L423.75 364.95 L424.50 363.19 L425.25 361.48 L426.00 359.82 L426.75 358.21 L427.50 356.66 L428.25 355.17 L429.00 353.72 L429.75 352.32 L430.50 350.97 L431.25 349.67 L432.00 348.43 L432.75 347.22 L433.50 346.06 L434.25 344.95 L435.00 343.87 L435.75 342.84 L436.50 341.85 L437.25 340.90 L438.00 340.00 L438.75 339.32 L439.50 338.62 L440.25 337.93 L441.00 337.22 L441.75 336.51 L442.50 335.79 L443.25 335.06 L444.00 334.33 L444.75 333.59 L445.50 332.84 L446.25 332.08 L447.00 331.33 L447.75 330.57 L448.50 329.80 L449.25 329.04 L450.00 328.26 L450.75 327.49 L451.50 326.71 L452.25 325.93 L453.00 325.15 L453.75 324.37 L454.50 323.59 L455.25 322.81 L456.00 322.02 L456.75 321.24 L457.50 320.46 L458.25 319.68 L459.00 318.90 L459.75 318.13 L460.50 317.36 L461.25 316.59 L462.00 315.82 L462.75 315.05 L463.50 314.30 L464.25 313.55 L465.00 312.82 L465.75 312.09 L466.50 311.36 L467.25 310.63 L468.00 309.92 L468.75 309.22 L469.50 308.55 L470.25 307.92 L471.00 307.31 L471.75 306.70 L472.50 306.12 L473.25 305.56 L474.00 305.05 L474.75 304.59 L475.50 304.18 L476.25 303.77 L477.00 303.39 L477.75 303.04 L478.50 302.75 L479.25 302.54 L480.00 302.41 L480.75 302.30 L481.50 302.20 L482.25 302.12 L483.00 302.06 L483.75 302.01 L484.50 302.00" fill="none" stroke="#0072BD" stroke-width="2.52" stroke-linejoin="round"/>
<path d="M243.20 462.30 L243.95 462.30 L244.70 462.30 L245.45 462.30 L246.20 462.30 L246.95 462.30 L247.70 462.30 L248.45 462.30 L249.20 462.30 L249.95 462.30 L250.70 462.30 L251.45 462.30 L252.20 462.30 L252.95 462.30 L253.70 462.30 L254.45 462.30 L255.20 462.30 L255.95 462.30 L256.70 462.30 L257.45 462.30 L258.20 462.30 L258.95 462.30 L259.70 462.30 L260.45 462.30 L261.20 462.30 L261.95 462.30 L262.70 462.30 L263.45 462.30 L264.20 462.30 L264.95 462.30 L265.70 462.30 L266.45 462.30 L267.20 462.30 L267.95 462.30 L268.70 462.30 L269.45 462.30 L270.20 462.30 L270.95 462.30 L271.70 462.30 L272.45 462.30 L273.20 462.30 L273.95 462.30 L274.70 462.30 L275.45 462.30 L276.20 462.30 L276.95 462.30 L277.70 462.30 L278.45 462.30 L279.20 462.30 L279.95 462.30 L280.70 462.30 L281.45 462.30 L282.20 462.30 L282.95 462.30 L283.70 462.30 L284.45 462.30 L285.20 462.30 L285.95 462.30 L286.70 462.30 L287.45 462.30 L288.20 462.30 L288.95 462.30 L289.70 462.30 L290.45 462.30 L291.20 462.30 L291.95 462.30 L292.70 462.30 L293.45 462.30 L294.20 462.30 L294.95 462.30 L295.70 462.30 L296.45 462.30 L297.20 462.30 L297.95 462.30 L298.70 462.30 L299.45 462.30 L300.20 462.30 L300.95 462.30 L301.70 462.30 L302.45 462.30 L303.20 462.30 L303.95 462.30 L304.70 462.30 L305.45 462.30 L306.20 462.30 L306.95 462.30 L307.70 462.30 L308.45 462.30 L309.20 462.30 L309.95 462.30 L310.70 462.30 L311.45 462.30 L312.20 462.30 L312.95 462.30 L313.70 462.30 L314.45 462.30 L315.20 462.30 L315.95 462.30 L316.70 462.30 L317.45 462.30 L318.20 462.30 L318.95 462.30 L319.70 462.30 L320.45 462.30 L321.20 462.30 L321.95 462.30 L322.70 462.30 L323.45 462.30 L324.20 462.30 L324.95 462.30 L325.70 462.30 L326.45 462.30 L327.20 462.30 L327.95 462.30 L328.70 462.30 L329.45 462.30 L330.20 462.30 L330.95 462.30 L331.70 462.30 L332.45 462.30 L333.20 462.30 L333.95 462.30 L334.70 462.30 L335.45 462.30 L336.20 462.30 L336.95 462.30 L337.70 462.30 L338.45 462.30 L339.20 462.30 L339.95 462.30 L340.70 462.30 L341.45 462.30 L342.20 462.30 L342.95 462.30 L343.70 462.30 L344.45 462.30 L345.20 462.30 L345.95 462.30 L346.70 462.30 L347.45 462.30 L348.20 462.30 L348.95 462.30 L349.70 462.30 L350.45 462.30 L351.20 462.30 L351.95 462.30 L352.70 462.30 L353.45 462.30 L354.20 462.30 L354.95 462.30 L355.70 462.30 L356.45 462.30 L357.20 462.30 L357.95 462.30 L358.70 462.30 L359.45 462.30 L360.20 462.30 L360.95 462.30 L361.70 462.30 L362.45 462.30 L363.20 462.30 L363.95 462.30 L364.70 462.30 L365.45 462.30 L366.00 462.30 L366.75 462.30 L367.50 462.30 L368.25 462.30 L369.00 462.30 L369.75 462.29 L370.50 462.29 L371.25 462.26 L372.00 462.22 L372.75 462.17 L373.50 462.11 L374.25 462.05 L375.00 461.99 L375.75 461.91 L376.50 461.82 L377.25 461.71 L378.00 461.59 L378.75 461.46 L379.50 461.32 L380.25 461.17 L381.00 461.00 L381.75 460.83 L382.50 460.65 L383.25 460.45 L384.00 460.21 L384.75 459.95 L385.50 459.66 L386.25 459.35 L387.00 459.00 L387.75 458.62 L388.50 458.18 L389.25 457.67 L390.00 457.10 L390.75 456.47 L391.50 455.79 L392.25 455.05 L393.00 454.19 L393.75 453.22 L394.50 452.14 L395.25 450.96 L396.00 449.66 L396.75 448.14 L397.50 446.44 L398.25 444.63 L399.00 442.74 L399.75 440.68 L400.50 438.51 L401.25 436.28 L402.00 433.94 L402.75 431.53 L403.50 429.07 L404.25 426.54 L405.00 423.97 L405.75 421.39 L406.50 418.77 L407.25 416.15 L408.00 413.53 L408.75 410.91 L409.50 408.30 L410.25 405.71 L411.00 403.13 L411.75 400.57 L412.50 398.04 L413.25 395.53 L414.00 393.05 L414.75 390.60 L415.50 388.18 L416.25 385.81 L417.00 383.50 L417.75 381.23 L418.50 378.99 L419.25 376.80 L420.00 374.67 L420.75 372.62 L421.50 370.62 L422.25 368.67 L423.00 366.78 L423.75 364.95 L424.50 363.19 L425.25 361.48 L426.00 359.82 L426.75 358.21 L427.50 356.66 L428.25 355.17 L429.00 353.72 L429.75 352.32 L430.50 350.97 L431.25 349.67 L432.00 348.43 L432.75 347.22 L433.50 346.06 L434.25 344.95 L435.00 343.87 L435.75 342.84 L436.50 341.85 L437.25 340.90 L438.00 340.00 L438.75 339.32 L439.50 338.62 L440.25 337.93 L441.00 337.22 L441.75 336.51 L442.50 335.79 L443.25 335.06 L444.00 334.33 L444.75 333.59 L445.50 332.84 L446.25 332.08 L447.00 331.33 L447.75 330.57 L448.50 329.80 L449.25 329.04 L450.00 328.26 L450.75 327.49 L451.50 326.71 L452.25 325.93 L453.00 325.15 L453.75 324.37 L454.50 323.59 L455.25 322.81 L456.00 322.02 L456.75 321.24 L457.50 320.46 L458.25 319.68 L459.00 318.90 L459.75 318.13 L460.50 317.36 L461.25 316.59 L462.00 315.82 L462.75 315.05 L463.50 314.30 L464.25 313.55 L465.00 312.82 L465.75 312.09 L466.50 311.36 L467.25 310.63 L468.00 309.92 L468.75 309.22 L469.50 308.55 L470.25 307.92 L471.00 307.31 L471.75 306.70 L472.50 306.12 L473.25 305.56 L474.00 305.05 L474.75 304.59 L475.50 304.18 L476.25 303.77 L477.00 303.39 L477.75 303.04 L478.50 302.75 L479.25 302.54 L480.00 302.41 L480.75 302.30 L481.50 302.20 L482.25 302.12 L483.00 302.06 L483.75 302.01 L484.50 302.00" fill="none" stroke="#D95319" stroke-width="2.52" stroke-linejoin="round" stroke-dasharray="2.7 2.35"/>
<path d="M243.20 462.30 L243.95 462.30 L244.70 462.30 L245.45 462.30 L246.20 462.30 L246.95 462.30 L247.70 462.30 L248.45 462.30 L249.20 462.30 L249.95 462.30 L250.70 462.30 L251.45 462.30 L252.20 462.30 L252.95 462.30 L253.70 462.30 L254.45 462.30 L255.20 462.30 L255.95 462.30 L256.70 462.31 L257.45 462.31 L258.20 462.31 L258.95 462.31 L259.70 462.31 L260.45 462.31 L261.20 462.31 L261.95 462.31 L262.70 462.31 L263.45 462.31 L264.20 462.31 L264.95 462.31 L265.70 462.31 L266.45 462.31 L267.20 462.31 L267.95 462.31 L268.70 462.31 L269.45 462.31 L270.20 462.31 L270.95 462.31 L271.70 462.31 L272.45 462.31 L273.20 462.31 L273.95 462.31 L274.70 462.31 L275.45 462.31 L276.20 462.31 L276.95 462.31 L277.70 462.31 L278.45 462.31 L279.20 462.31 L279.95 462.31 L280.70 462.31 L281.45 462.31 L282.20 462.31 L282.95 462.31 L283.70 462.32 L284.45 462.32 L285.20 462.32 L285.95 462.32 L286.70 462.32 L287.45 462.32 L288.20 462.32 L288.95 462.32 L289.70 462.32 L290.45 462.32 L291.20 462.32 L291.95 462.32 L292.70 462.32 L293.45 462.32 L294.20 462.32 L294.95 462.32 L295.70 462.32 L296.45 462.32 L297.20 462.32 L297.95 462.32 L298.70 462.32 L299.45 462.32 L300.20 462.32 L300.95 462.32 L301.70 462.32 L302.45 462.32 L303.20 462.32 L303.95 462.32 L304.70 462.32 L305.45 462.32 L306.20 462.32 L306.95 462.32 L307.70 462.32 L308.45 462.32 L309.20 462.32 L309.95 462.32 L310.70 462.33 L311.45 462.33 L312.20 462.33 L312.95 462.33 L313.70 462.33 L314.45 462.33 L315.20 462.33 L315.95 462.33 L316.70 462.33 L317.45 462.33 L318.20 462.33 L318.95 462.33 L319.70 462.33 L320.45 462.33 L321.20 462.33 L321.95 462.33 L322.70 462.33 L323.45 462.33 L324.20 462.33 L324.95 462.33 L325.70 462.33 L326.45 462.33 L327.20 462.33 L327.95 462.33 L328.70 462.33 L329.45 462.33 L330.20 462.33 L330.95 462.33 L331.70 462.33 L332.45 462.33 L333.20 462.33 L333.95 462.33 L334.70 462.33 L335.45 462.33 L336.20 462.33 L336.95 462.33 L337.70 462.34 L338.45 462.34 L339.20 462.34 L339.95 462.34 L340.70 462.34 L341.45 462.34 L342.20 462.34 L342.95 462.34 L343.70 462.34 L344.45 462.34 L345.20 462.34 L345.95 462.34 L346.70 462.34 L347.45 462.34 L348.20 462.34 L348.95 462.34 L349.70 462.34 L350.45 462.34 L351.20 462.34 L351.95 462.34 L352.70 462.34 L353.45 462.34 L354.20 462.34 L354.95 462.34 L355.70 462.34 L356.45 462.34 L357.20 462.34 L357.95 462.34 L358.70 462.34 L359.45 462.34 L360.20 462.34 L360.95 462.34 L361.70 462.34 L362.45 462.34 L363.20 462.34 L363.95 462.34 L364.70 462.35 L365.45 462.35 L366.20 462.35 L366.95 462.35 L367.70 462.35 L368.45 462.35 L369.20 462.35 L369.95 462.35 L370.70 462.35 L371.45 462.35 L372.20 462.35 L372.95 462.35 L373.70 462.35 L374.45 462.35 L375.20 462.35 L375.95 462.35 L376.70 462.35 L377.45 462.35 L378.00 462.35 L378.75 462.35 L379.50 462.35 L380.25 462.35 L381.00 462.36 L381.75 462.36 L382.50 462.37 L383.25 462.41 L384.00 462.47 L384.75 462.54 L385.50 462.59 L386.25 462.62 L387.00 462.63 L387.75 462.65 L388.50 462.66 L389.25 462.66 L390.00 462.66 L390.75 462.60 L391.50 462.50 L392.25 462.38 L393.00 462.25 L393.75 462.05 L394.50 461.79 L395.25 461.48 L396.00 461.12 L396.75 460.63 L397.50 460.03 L398.25 459.33 L399.00 458.56 L399.75 457.70 L400.50 456.64 L401.25 455.43 L402.00 454.13 L402.75 452.77 L403.50 451.28 L404.25 449.69 L405.00 448.05 L405.75 446.36 L406.50 444.58 L407.25 442.74 L408.00 440.87 L408.75 438.96 L409.50 437.01 L410.25 435.01 L411.00 433.00 L411.75 430.98 L412.50 428.93 L413.25 426.86 L414.00 424.80 L414.75 422.75 L415.50 420.70 L416.25 418.65 L417.00 416.62 L417.75 414.63 L418.50 412.65 L419.25 410.68 L420.00 408.70 L420.75 406.73 L421.50 404.76 L422.25 402.78 L423.00 400.77 L423.75 398.73 L424.50 396.67 L425.25 394.58 L426.00 392.45 L426.75 390.27 L427.50 388.03 L428.25 385.75 L429.00 383.45 L429.75 381.14 L430.50 378.81 L431.25 376.46 L432.00 374.10 L432.75 371.77 L433.50 369.49 L434.25 367.21 L435.00 364.95 L435.75 362.73 L436.50 360.57 L437.25 358.49 L438.00 356.45 L438.75 354.47 L439.50 352.54 L440.25 350.71 L441.00 348.99 L441.75 347.34 L442.50 345.76 L443.25 344.26 L444.00 342.82 L444.75 341.47 L445.50 340.18 L446.25 338.94 L447.00 337.75 L447.75 336.60 L448.50 335.48 L449.25 334.38 L450.00 333.32 L450.75 332.30 L451.50 331.30 L452.25 330.31 L453.00 329.33 L453.75 328.34 L454.50 327.34 L455.25 326.35 L456.00 325.36 L456.75 324.38 L457.50 323.40 L458.25 322.43 L459.00 321.46 L459.75 320.50 L460.50 319.53 L461.25 318.58 L462.00 317.65 L462.75 316.73 L463.50 315.83 L464.25 314.93 L465.00 314.05 L465.75 313.19 L466.50 312.35 L467.25 311.54 L468.00 310.76 L468.75 310.00 L469.50 309.25 L470.25 308.53 L471.00 307.84 L471.75 307.18 L472.50 306.57 L473.25 305.97 L474.00 305.40 L474.75 304.87 L475.50 304.39 L476.25 303.96 L477.00 303.54 L477.75 303.14 L478.50 302.79 L479.25 302.55 L480.00 302.41 L480.75 302.30 L481.50 302.20 L482.25 302.12 L483.00 302.05 L483.75 302.01 L484.50 302.00" fill="none" stroke="#EDB120" stroke-width="2.00" stroke-linejoin="round" stroke-dasharray="4.25 3.325"/>
<rect x="219.50" y="285.50" width="290.00" height="193.00" fill="none" stroke="#000" stroke-width="0.70"/>
<rect x="228.50" y="291.50" width="163.18" height="51.48" fill="#fff" stroke="#000" stroke-width="0.70"/>
<path d="M233.56 301.82 h21.82" stroke="#0072BD" stroke-width="2.52"/>
<path d="M233.56 317.39 h21.82" stroke="#D95319" stroke-width="2.52" stroke-dasharray="2.52 2.52"/>
<path d="M233.56 332.97 h21.82" stroke="#EDB120" stroke-width="2.00" stroke-dasharray="3.79 3.785"/>
<text x="115.95" y="167.45" font-size="13.00" textLength="58.81" lengthAdjust="spacingAndGlyphs">Monolithic</text>
<text x="92.04" y="183.05" font-size="13.00" textLength="71.27" lengthAdjust="spacingAndGlyphs">LATIN-PGD</text>
<text x="167.65" y="183.05" font-size="13.00" textLength="29.96" lengthAdjust="spacingAndGlyphs">linear</text>
<text x="81.84" y="198.60" font-size="13.00" textLength="71.27" lengthAdjust="spacingAndGlyphs">LATIN-PGD</text>
<text x="157.85" y="198.60" font-size="13.00" textLength="50.36" lengthAdjust="spacingAndGlyphs">nonlinear</text>
<text x="65.00" y="226.85" font-size="13.10" textLength="13.14" lengthAdjust="spacingAndGlyphs">10</text>
<text x="78.39" y="223.00" font-size="10.53" textLength="7.03" lengthAdjust="spacingAndGlyphs">−</text>
<text x="85.43" y="222.00" font-size="9.30" textLength="5.29" lengthAdjust="spacingAndGlyphs">2</text>
<text x="101.57" y="226.85" font-size="13.10" textLength="13.14" lengthAdjust="spacingAndGlyphs">10</text>
<text x="115.09" y="223.00" font-size="10.53" textLength="7.06" lengthAdjust="spacingAndGlyphs">−</text>
<text x="122.23" y="222.00" font-size="9.30" textLength="4.64" lengthAdjust="spacingAndGlyphs">1</text>
<text x="142.26" y="226.85" font-size="13.10" textLength="13.28" lengthAdjust="spacingAndGlyphs">10</text>
<text x="155.56" y="222.00" font-size="9.30" textLength="5.06" lengthAdjust="spacingAndGlyphs">0</text>
<text x="179.15" y="226.85" font-size="13.10" textLength="12.96" lengthAdjust="spacingAndGlyphs">10</text>
<text x="192.50" y="222.00" font-size="9.30" textLength="4.19" lengthAdjust="spacingAndGlyphs">1</text>
<text x="215.74" y="226.85" font-size="13.10" textLength="12.96" lengthAdjust="spacingAndGlyphs">10</text>
<text x="228.73" y="222.00" font-size="9.30" textLength="5.38" lengthAdjust="spacingAndGlyphs">2</text>
<text x="252.27" y="226.85" font-size="13.10" textLength="13.25" lengthAdjust="spacingAndGlyphs">10</text>
<text x="265.53" y="222.00" font-size="9.30" textLength="5.11" lengthAdjust="spacingAndGlyphs">3</text>
<text x="289.14" y="226.85" font-size="13.10" textLength="12.97" lengthAdjust="spacingAndGlyphs">10</text>
<text x="302.43" y="222.00" font-size="9.30" textLength="4.73" lengthAdjust="spacingAndGlyphs">4</text>
<text x="31.05" y="31.90" font-size="13.10" textLength="6.74" lengthAdjust="spacingAndGlyphs">0</text>
<text x="21.08" y="70.00" font-size="13.83" textLength="9.85" lengthAdjust="spacingAndGlyphs">−</text>
<text x="30.73" y="68.85" font-size="13.10" textLength="7.05" lengthAdjust="spacingAndGlyphs">1</text>
<text x="21.08" y="107.00" font-size="13.98" textLength="9.85" lengthAdjust="spacingAndGlyphs">−</text>
<text x="30.96" y="105.80" font-size="13.10" textLength="6.83" lengthAdjust="spacingAndGlyphs">2</text>
<text x="21.08" y="144.00" font-size="14.14" textLength="9.85" lengthAdjust="spacingAndGlyphs">−</text>
<text x="31.02" y="142.75" font-size="13.10" textLength="6.35" lengthAdjust="spacingAndGlyphs">3</text>
<text x="21.08" y="181.00" font-size="14.29" textLength="9.85" lengthAdjust="spacingAndGlyphs">−</text>
<text x="31.42" y="179.70" font-size="13.10" textLength="5.64" lengthAdjust="spacingAndGlyphs">4</text>
<text x="45.90" y="11.10" font-size="13.10" textLength="2.95" lengthAdjust="spacingAndGlyphs">·</text>
<text x="48.89" y="11.10" font-size="13.10" textLength="13.52" lengthAdjust="spacingAndGlyphs">10</text>
<text x="62.45" y="7.00" font-size="8.42" textLength="7.15" lengthAdjust="spacingAndGlyphs">−</text>
<text x="69.84" y="6.75" font-size="9.30" textLength="5.24" lengthAdjust="spacingAndGlyphs">4</text>
<text x="165.67" y="244.85" font-size="13.00" textLength="28.62" lengthAdjust="spacingAndGlyphs">Time</text>
<text x="198.71" y="244.85" font-size="13.00" textLength="11.94" lengthAdjust="spacingAndGlyphs">[s]</text>
<text transform="translate(9.80 161.66) rotate(-90)" font-size="13.00" textLength="72.46" lengthAdjust="spacingAndGlyphs">Displacement</text>
<text transform="translate(9.80 84.75) rotate(-90)" font-size="13.00" textLength="18.88" lengthAdjust="spacingAndGlyphs">[m]</text>
<text x="79.06" y="269.40" font-size="14.20" textLength="17.24" lengthAdjust="spacingAndGlyphs">(a)</text>
<text x="102.20" y="269.40" font-size="14.20" textLength="83.61" lengthAdjust="spacingAndGlyphs">Displacement</text>
<text x="191.42" y="269.40" font-size="14.20" textLength="12.40" lengthAdjust="spacingAndGlyphs">at</text>
<text x="210.33" y="269.40" font-size="14.20" textLength="5.59" lengthAdjust="spacingAndGlyphs" font-style="italic">z</text>
<text x="219.89" y="269.40" font-size="14.20" textLength="11.72" lengthAdjust="spacingAndGlyphs">=</text>
<text x="235.04" y="269.40" font-size="13.90" textLength="8.59" lengthAdjust="spacingAndGlyphs">7</text>
<text x="245.84" y="269.40" font-size="14.20" textLength="11.08" lengthAdjust="spacingAndGlyphs">m</text>
<text x="466.25" y="167.45" font-size="13.00" textLength="59.07" lengthAdjust="spacingAndGlyphs">Monolithic</text>
<text x="442.34" y="183.05" font-size="13.00" textLength="71.27" lengthAdjust="spacingAndGlyphs">LATIN-PGD</text>
<text x="517.95" y="183.05" font-size="13.00" textLength="29.96" lengthAdjust="spacingAndGlyphs">linear</text>
<text x="432.14" y="198.60" font-size="13.00" textLength="71.27" lengthAdjust="spacingAndGlyphs">LATIN-PGD</text>
<text x="508.14" y="198.60" font-size="13.00" textLength="50.36" lengthAdjust="spacingAndGlyphs">nonlinear</text>
<text x="415.34" y="226.85" font-size="13.10" textLength="13.01" lengthAdjust="spacingAndGlyphs">10</text>
<text x="428.75" y="223.00" font-size="10.53" textLength="7.01" lengthAdjust="spacingAndGlyphs">−</text>
<text x="435.70" y="222.00" font-size="9.30" textLength="5.30" lengthAdjust="spacingAndGlyphs">2</text>
<text x="452.17" y="226.85" font-size="13.10" textLength="12.87" lengthAdjust="spacingAndGlyphs">10</text>
<text x="465.48" y="223.00" font-size="10.53" textLength="7.03" lengthAdjust="spacingAndGlyphs">−</text>
<text x="472.60" y="222.00" font-size="9.30" textLength="4.64" lengthAdjust="spacingAndGlyphs">1</text>
<text x="492.67" y="226.85" font-size="13.10" textLength="12.97" lengthAdjust="spacingAndGlyphs">10</text>
<text x="505.92" y="222.00" font-size="9.30" textLength="5.09" lengthAdjust="spacingAndGlyphs">0</text>
<text x="529.48" y="226.85" font-size="13.10" textLength="12.98" lengthAdjust="spacingAndGlyphs">10</text>
<text x="542.75" y="222.00" font-size="9.30" textLength="4.60" lengthAdjust="spacingAndGlyphs">1</text>
<text x="566.09" y="226.85" font-size="13.10" textLength="12.96" lengthAdjust="spacingAndGlyphs">10</text>
<text x="579.28" y="222.00" font-size="9.30" textLength="5.39" lengthAdjust="spacingAndGlyphs">2</text>
<text x="602.65" y="226.85" font-size="13.10" textLength="13.21" lengthAdjust="spacingAndGlyphs">10</text>
<text x="615.91" y="222.00" font-size="9.30" textLength="5.09" lengthAdjust="spacingAndGlyphs">3</text>
<text x="639.49" y="226.85" font-size="13.10" textLength="12.96" lengthAdjust="spacingAndGlyphs">10</text>
<text x="652.78" y="222.00" font-size="9.30" textLength="4.76" lengthAdjust="spacingAndGlyphs">4</text>
<text x="381.09" y="42.30" font-size="13.10" textLength="6.39" lengthAdjust="spacingAndGlyphs">1</text>
<text x="371.27" y="73.78" font-size="13.10" textLength="16.67" lengthAdjust="spacingAndGlyphs">0.8</text>
<text x="371.28" y="105.26" font-size="13.10" textLength="16.41" lengthAdjust="spacingAndGlyphs">0.6</text>
<text x="371.28" y="136.74" font-size="13.10" textLength="16.39" lengthAdjust="spacingAndGlyphs">0.4</text>
<text x="371.26" y="168.22" font-size="13.10" textLength="16.70" lengthAdjust="spacingAndGlyphs">0.2</text>
<text x="381.39" y="199.70" font-size="13.10" textLength="6.72" lengthAdjust="spacingAndGlyphs">0</text>
<text x="516.13" y="244.85" font-size="13.00" textLength="28.61" lengthAdjust="spacingAndGlyphs">Time</text>
<text x="549.28" y="244.85" font-size="13.00" textLength="11.62" lengthAdjust="spacingAndGlyphs">[s]</text>
<text transform="translate(359.90 155.47) rotate(-90)" font-size="13.00" textLength="45.97" lengthAdjust="spacingAndGlyphs">Pressure</text>
<text transform="translate(359.90 105.86) rotate(-90)" font-size="13.00" textLength="34.13" lengthAdjust="spacingAndGlyphs">[MPa]</text>
<text x="428.42" y="269.40" font-size="14.20" textLength="19.24" lengthAdjust="spacingAndGlyphs">(b)</text>
<text x="452.42" y="269.40" font-size="14.20" textLength="29.00" lengthAdjust="spacingAndGlyphs">Pore</text>
<text x="486.19" y="269.40" font-size="14.20" textLength="51.47" lengthAdjust="spacingAndGlyphs">pressure</text>
<text x="542.03" y="269.40" font-size="14.20" textLength="12.40" lengthAdjust="spacingAndGlyphs">at</text>
<text x="561.44" y="269.40" font-size="14.20" textLength="5.61" lengthAdjust="spacingAndGlyphs" font-style="italic">z</text>
<text x="571.26" y="269.40" font-size="14.20" textLength="11.74" lengthAdjust="spacingAndGlyphs">=</text>
<text x="586.88" y="269.40" font-size="13.90" textLength="7.59" lengthAdjust="spacingAndGlyphs">6</text>
<text x="596.83" y="269.40" font-size="14.20" textLength="11.37" lengthAdjust="spacingAndGlyphs">m</text>
<text x="292.87" y="305.24" font-size="13.00" textLength="58.53" lengthAdjust="spacingAndGlyphs">Monolithic</text>
<text x="269.12" y="320.71" font-size="13.00" textLength="70.85" lengthAdjust="spacingAndGlyphs">LATIN-PGD</text>
<text x="344.21" y="320.71" font-size="13.00" textLength="29.82" lengthAdjust="spacingAndGlyphs">linear</text>
<text x="259.11" y="336.14" font-size="13.00" textLength="70.60" lengthAdjust="spacingAndGlyphs">LATIN-PGD</text>
<text x="334.52" y="336.14" font-size="13.00" textLength="50.09" lengthAdjust="spacingAndGlyphs">nonlinear</text>
<text x="242.09" y="493.90" font-size="13.10" textLength="13.01" lengthAdjust="spacingAndGlyphs">10</text>
<text x="255.50" y="490.00" font-size="10.38" textLength="7.01" lengthAdjust="spacingAndGlyphs">−</text>
<text x="262.45" y="489.05" font-size="9.30" textLength="5.30" lengthAdjust="spacingAndGlyphs">2</text>
<text x="278.67" y="493.90" font-size="13.10" textLength="12.88" lengthAdjust="spacingAndGlyphs">10</text>
<text x="291.92" y="490.00" font-size="10.38" textLength="7.00" lengthAdjust="spacingAndGlyphs">−</text>
<text x="299.09" y="489.05" font-size="9.30" textLength="4.64" lengthAdjust="spacingAndGlyphs">1</text>
<text x="319.15" y="493.90" font-size="13.10" textLength="12.96" lengthAdjust="spacingAndGlyphs">10</text>
<text x="332.17" y="489.05" font-size="9.30" textLength="5.04" lengthAdjust="spacingAndGlyphs">0</text>
<text x="355.46" y="493.90" font-size="13.10" textLength="13.22" lengthAdjust="spacingAndGlyphs">10</text>
<text x="369.03" y="489.05" font-size="9.30" textLength="4.19" lengthAdjust="spacingAndGlyphs">1</text>
<text x="392.05" y="493.90" font-size="13.10" textLength="12.96" lengthAdjust="spacingAndGlyphs">10</text>
<text x="405.06" y="489.05" font-size="9.30" textLength="5.36" lengthAdjust="spacingAndGlyphs">2</text>
<text x="428.35" y="493.90" font-size="13.10" textLength="13.23" lengthAdjust="spacingAndGlyphs">10</text>
<text x="441.61" y="489.05" font-size="9.30" textLength="5.11" lengthAdjust="spacingAndGlyphs">3</text>
<text x="464.92" y="493.90" font-size="13.10" textLength="12.96" lengthAdjust="spacingAndGlyphs">10</text>
<text x="478.20" y="489.05" font-size="9.30" textLength="4.77" lengthAdjust="spacingAndGlyphs">4</text>
<text x="196.16" y="315.35" font-size="13.10" textLength="19.28" lengthAdjust="spacingAndGlyphs">320</text>
<text x="196.16" y="379.65" font-size="13.10" textLength="19.28" lengthAdjust="spacingAndGlyphs">300</text>
<text x="196.17" y="443.95" font-size="13.10" textLength="19.27" lengthAdjust="spacingAndGlyphs">280</text>
<text x="342.09" y="511.60" font-size="13.00" textLength="28.41" lengthAdjust="spacingAndGlyphs">Time</text>
<text x="375.11" y="511.60" font-size="13.00" textLength="11.72" lengthAdjust="spacingAndGlyphs">[s]</text>
<text transform="translate(184.70 426.66) rotate(-90)" font-size="13.00" textLength="68.66" lengthAdjust="spacingAndGlyphs">Temperature</text>
<text transform="translate(184.70 353.54) rotate(-90)" font-size="13.00" textLength="16.80" lengthAdjust="spacingAndGlyphs">[K]</text>
<text x="256.37" y="535.80" font-size="14.20" textLength="16.95" lengthAdjust="spacingAndGlyphs">(c)</text>
<text x="278.74" y="535.80" font-size="14.20" textLength="81.08" lengthAdjust="spacingAndGlyphs">Temperature</text>
<text x="364.38" y="535.80" font-size="14.20" textLength="12.12" lengthAdjust="spacingAndGlyphs">at</text>
<text x="383.35" y="535.80" font-size="14.20" textLength="5.50" lengthAdjust="spacingAndGlyphs" font-style="italic">z</text>
<text x="393.36" y="535.80" font-size="14.20" textLength="11.77" lengthAdjust="spacingAndGlyphs">=</text>
<text x="408.73" y="535.80" font-size="13.90" textLength="7.62" lengthAdjust="spacingAndGlyphs">6</text>
<text x="418.73" y="535.80" font-size="14.20" textLength="11.40" lengthAdjust="spacingAndGlyphs">m</text>
</svg>
</body></html>
